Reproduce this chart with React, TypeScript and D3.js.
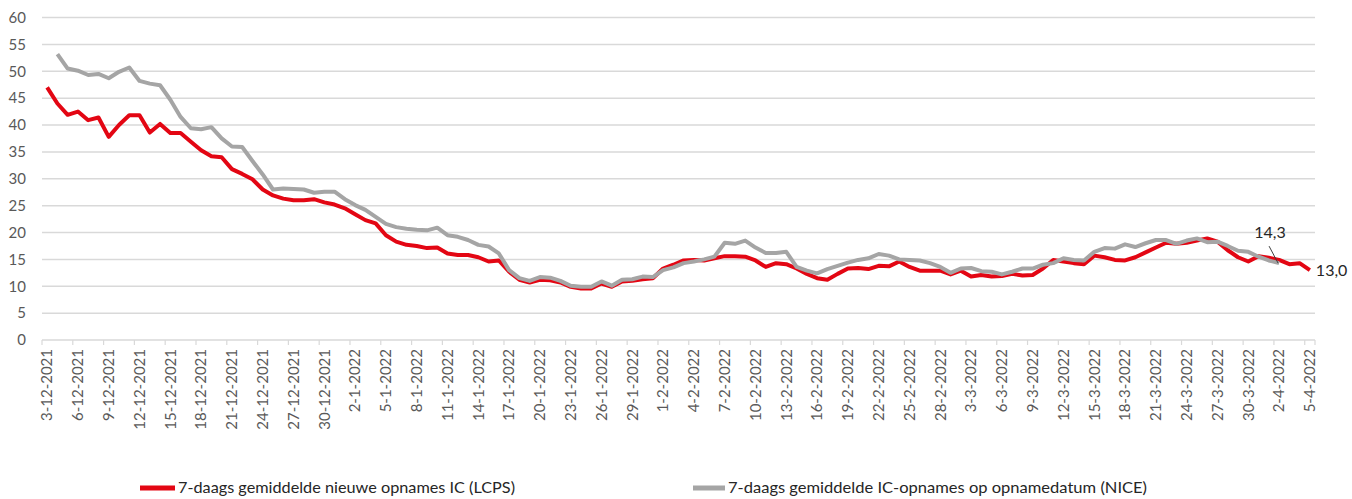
import * as d3 from "d3";

// 7-daags gemiddelde IC-opnames, 3-12-2021 t/m 5-4-2022
const startDate = new Date(2021, 11, 3);
const endDate = new Date(2022, 3, 6);
const dates = d3.timeDay.range(startDate, endDate);
const fmtDate = d3.timeFormat("%-d-%-m-%Y");

const lcpsValues = [
  47.0, 44.0, 41.9, 42.5, 40.9, 41.4, 37.8, 40.0, 41.8, 41.8,
  38.6, 40.2, 38.5, 38.5, 36.9, 35.3, 34.2, 34.0, 31.8, 30.9,
  29.9, 28.0, 26.9, 26.3, 26.0, 26.0, 26.2, 25.6, 25.2, 24.5,
  23.4, 22.3, 21.7, 19.5, 18.3, 17.7, 17.5, 17.1, 17.2, 16.1,
  15.8, 15.8, 15.4, 14.6, 14.8, 12.7, 11.2, 10.7, 11.2, 11.1,
  10.7, 9.9, 9.6, 9.6, 10.5, 9.9, 10.9, 11.0, 11.3, 11.5,
  13.3, 14.0, 14.8, 14.9, 14.8, 15.2, 15.6, 15.6, 15.5, 14.8,
  13.6, 14.3, 14.1, 13.3, 12.3, 11.5, 11.2, 12.3, 13.3, 13.4,
  13.2, 13.8, 13.7, 14.6, 13.6, 12.9, 12.9, 12.9, 12.2, 12.9,
  11.8, 12.1, 11.8, 11.9, 12.3, 12.0, 12.1, 13.3, 14.9, 14.6,
  14.3, 14.1, 15.7, 15.4, 14.9, 14.8, 15.4, 16.3, 17.2, 18.1,
  17.9, 18.1, 18.5, 18.9, 18.3, 16.7, 15.4, 14.6, 15.6, 15.3,
  14.9, 14.1, 14.3, 13.0,
];

// NICE starts one day later (4-12-2021) and ends 2-4-2022
const niceOffset = 1;
const niceValues = [
  53.2, 50.5, 50.1, 49.3, 49.5, 48.7, 49.9, 50.7, 48.2, 47.7,
  47.4, 44.7, 41.5, 39.4, 39.2, 39.6, 37.5, 36.0, 35.9, 33.3,
  30.8, 28.0, 28.2, 28.1, 28.0, 27.4, 27.6, 27.6, 26.2, 25.1,
  24.2, 22.9, 21.6, 21.0, 20.7, 20.5, 20.4, 20.9, 19.5, 19.2,
  18.6, 17.7, 17.4, 16.1, 13.0, 11.5, 11.0, 11.7, 11.6, 11.0,
  10.1, 9.9, 9.9, 10.9, 10.1, 11.2, 11.3, 11.8, 11.7, 13.0,
  13.5, 14.3, 14.6, 15.0, 15.5, 18.1, 17.9, 18.5, 17.2, 16.2,
  16.2, 16.4, 13.6, 12.9, 12.4, 13.2, 13.8, 14.4, 14.9, 15.2,
  16.0, 15.7, 15.0, 14.9, 14.8, 14.3, 13.6, 12.5, 13.3, 13.4,
  12.8, 12.7, 12.2, 12.7, 13.3, 13.3, 14.0, 14.3, 15.2, 14.9,
  14.8, 16.4, 17.1, 17.0, 17.8, 17.3, 18.0, 18.6, 18.6, 17.9,
  18.5, 18.9, 18.2, 18.3, 17.5, 16.6, 16.4, 15.5, 14.8, 14.3,
];

const yTicks = [0, 5, 10, 15, 20, 25, 30, 35, 40, 45, 50, 55, 60];
const legendLabels = [
  "7-daags gemiddelde nieuwe opnames IC (LCPS)",
  "7-daags gemiddelde IC-opnames op opnamedatum (NICE)",
];

const W = 1352;
const H = 499;
const RED = "#e30613";
const GREY = "#a5a5a5";
const GRID = "#d9d9d9";
const TXT = "#595959";
const FONT = "Lato, 'Open Sans', sans-serif";

const commaFmt = (v: number) => d3.format(".1f")(v).replace(".", ",");

export default function App() {
  const idx = dates.map((_, i) => i);
  const x = d3.scaleBand<number>().domain(idx).range([42, 1315]).paddingInner(0).paddingOuter(0);
  const bw = x.bandwidth();
  const cx = (i: number) => (x(i) as number) + bw / 2;
  const y = d3.scaleLinear().domain([0, 60]).range([340, 17.5]);

  const line = d3
    .line<number>()
    .x((_, i) => cx(i))
    .y((d) => y(d))
    .curve(d3.curveLinear);
  const niceLine = d3
    .line<number>()
    .x((_, i) => cx(i + niceOffset))
    .y((d) => y(d));

  const labelIdx = idx.filter((i) => i % 3 === 0);
  const tickIdx = idx.filter((i) => i % 3 === 0);

  const lastRed = lcpsValues.length - 1;
  const redEnd = { x: cx(lastRed), y: y(lcpsValues[lastRed]) };
  const lastNice = niceValues.length - 1;
  const niceEnd = { x: cx(lastNice + niceOffset), y: y(niceValues[lastNice]) };

  return (
    <div style={{ position: "absolute", left: 0, top: 0 }}>
      <svg width={W} height={H} style={{ display: "block", background: "#fff" }} fontFamily={FONT}>
        {/* gridlines */}
        <g>
          {yTicks.map((t) => (
            <line key={t} x1={42} x2={1315} y1={y(t)} y2={y(t)} stroke={GRID} strokeWidth={1.5} />
          ))}
        </g>
        {/* y labels */}
        <g fill={TXT} fontSize={15} textAnchor="end">
          {yTicks.map((t) => (
            <text key={t} x={26} y={y(t)} dy="0.35em">
              {t}
            </text>
          ))}
        </g>
        {/* x ticks */}
        <g stroke={GRID} strokeWidth={1.2}>
          {tickIdx.map((i) => (
            <line key={i} x1={x(i) as number} x2={x(i) as number} y1={340} y2={345} />
          ))}
          <line x1={1315} x2={1315} y1={340} y2={345} />
        </g>
        {/* x labels */}
        <g fill={TXT} fontSize={15} textAnchor="end">
          {labelIdx.map((i) => (
            <text key={i} transform={`translate(${cx(i)},349) rotate(-90)`} dy="0.35em">
              {fmtDate(dates[i])}
            </text>
          ))}
        </g>
        {/* series */}
        <path d={line(lcpsValues) ?? ""} fill="none" stroke={RED} strokeWidth={4} strokeLinejoin="round" />
        <path d={niceLine(niceValues) ?? ""} fill="none" stroke={GREY} strokeWidth={4} strokeLinejoin="round" />
        {/* annotations */}
        <line x1={niceEnd.x - 10} y1={niceEnd.y - 17} x2={niceEnd.x - 1} y2={niceEnd.y} stroke="#404040" strokeWidth={1} />
        <text x={niceEnd.x - 9} y={niceEnd.y - 25} textAnchor="middle" fontSize={16} fill="#262626">
          {commaFmt(niceValues[lastNice])}
        </text>
        <text x={redEnd.x + 6} y={redEnd.y} dy="0.35em" fontSize={16} fill="#262626">
          {commaFmt(lcpsValues[lastRed])}
        </text>
        {/* legend */}
        <g fontSize={15} fill="#262626">
          <line x1={140} x2={175} y1={488} y2={488} stroke={RED} strokeWidth={5} />
          <text x={178} y={488} dy="0.35em" textLength={337} lengthAdjust="spacingAndGlyphs">
            {legendLabels[0]}
          </text>
          <line x1={693} x2={725} y1={488} y2={488} stroke={GREY} strokeWidth={5} />
          <text x={728} y={488} dy="0.35em" textLength={419} lengthAdjust="spacingAndGlyphs">
            {legendLabels[1]}
          </text>
        </g>
      </svg>
    </div>
  );
}
